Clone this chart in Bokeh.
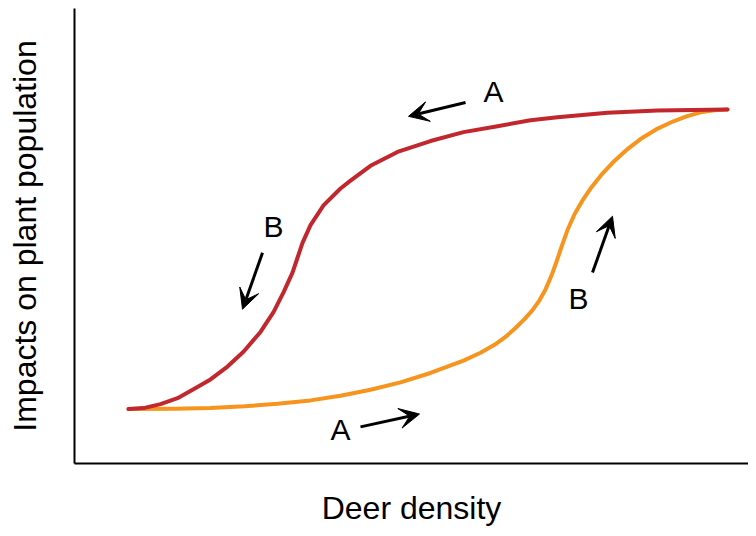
from bokeh.plotting import figure
from bokeh.models import Range1d, Arrow, VeeHead, Label
from bokeh.embed import file_html
from bokeh.resources import INLINE

# Arbitrary units: deer density (x, 0-674) vs impact on plant population (y, 0-460)
# Upper (red) branch
red_x = [54, 69, 86, 103, 119, 136, 153, 169, 186, 199, 209, 218, 223, 228, 236, 249,
         266, 276, 296, 323, 356, 389, 423, 456, 483, 533, 583, 653]
red_y = [55, 56, 60, 66, 75, 85, 98, 113, 133, 153, 173, 193, 208, 223, 241, 261,
         278, 286, 301, 315, 326, 335, 341, 347, 350, 354.5, 357, 358]

# Lower (orange) branch
orange_x = [54, 100, 136, 170, 203, 236, 266, 296, 326, 356, 389, 406, 420, 431, 441,
            450, 458, 465, 471, 477, 482, 487, 493, 500, 508, 516, 527, 539, 552, 566,
            582, 599, 612, 626, 640, 653]
orange_y = [55, 55.4, 56.2, 57.8, 60.3, 63.8, 68.5, 74.5, 82, 91.5, 104, 112, 120, 128, 137,
            146, 155, 165, 176, 190, 204, 219, 236, 252, 266, 278, 292, 305, 317, 328,
            338, 346, 351, 355, 357, 358]

# Annotations: label text, label position, arrow tail -> tip
ann_text = ["A", "B", "B", "A"]
ann_lx = [419, 199, 504, 266]
ann_ly = [376, 240, 167, 34]
arr_x0 = [391, 188, 518, 286]
arr_y0 = [365, 213, 193, 37]
arr_x1 = [334, 168, 538, 345]
arr_y1 = [351, 156, 250, 50]

FONT = "Liberation Sans"

p = figure(width=748, height=528, output_backend="svg", toolbar_location=None,
           x_range=Range1d(0, 674), y_range=Range1d(0, 460),
           min_border_left=74, min_border_bottom=60, min_border_top=8, min_border_right=0)
p.outline_line_color = None
p.grid.visible = False
p.background_fill_color = "white"

for ax in (p.xaxis[0], p.yaxis[0]):
    ax.major_tick_line_color = None
    ax.minor_tick_line_color = None
    ax.major_label_text_font_size = "0px"
    ax.major_label_text_color = None
    ax.axis_line_color = "black"
    ax.axis_line_width = 2
    ax.axis_label_text_font = FONT
    ax.axis_label_text_font_size = "32px"
    ax.axis_label_text_font_style = "normal"
    ax.axis_label_text_color = "black"

p.xaxis.axis_label = "Deer density"
p.yaxis.axis_label = "Impacts on plant population"
p.xaxis.axis_label_standoff = 20
p.yaxis.axis_label_standoff = 26

p.line(orange_x, orange_y, line_color="#F7941D", line_width=4, line_join="round", line_cap="round")
p.line(red_x, red_y, line_color="#C1272D", line_width=4, line_join="round", line_cap="round")

for t, lx, ly in zip(ann_text, ann_lx, ann_ly):
    p.add_layout(Label(x=lx, y=ly, text=t, text_font=FONT, text_font_size="30px",
                       text_align="center", text_baseline="middle", text_color="black"))

for x0, y0, x1, y1 in zip(arr_x0, arr_y0, arr_x1, arr_y1):
    p.add_layout(Arrow(x_start=x0, y_start=y0, x_end=x1, y_end=y1, line_width=3,
                       line_color="black",
                       end=VeeHead(size=20, fill_color="black", line_color="black", line_width=1)))

open("out.html", "w").write(file_html(p, INLINE))
